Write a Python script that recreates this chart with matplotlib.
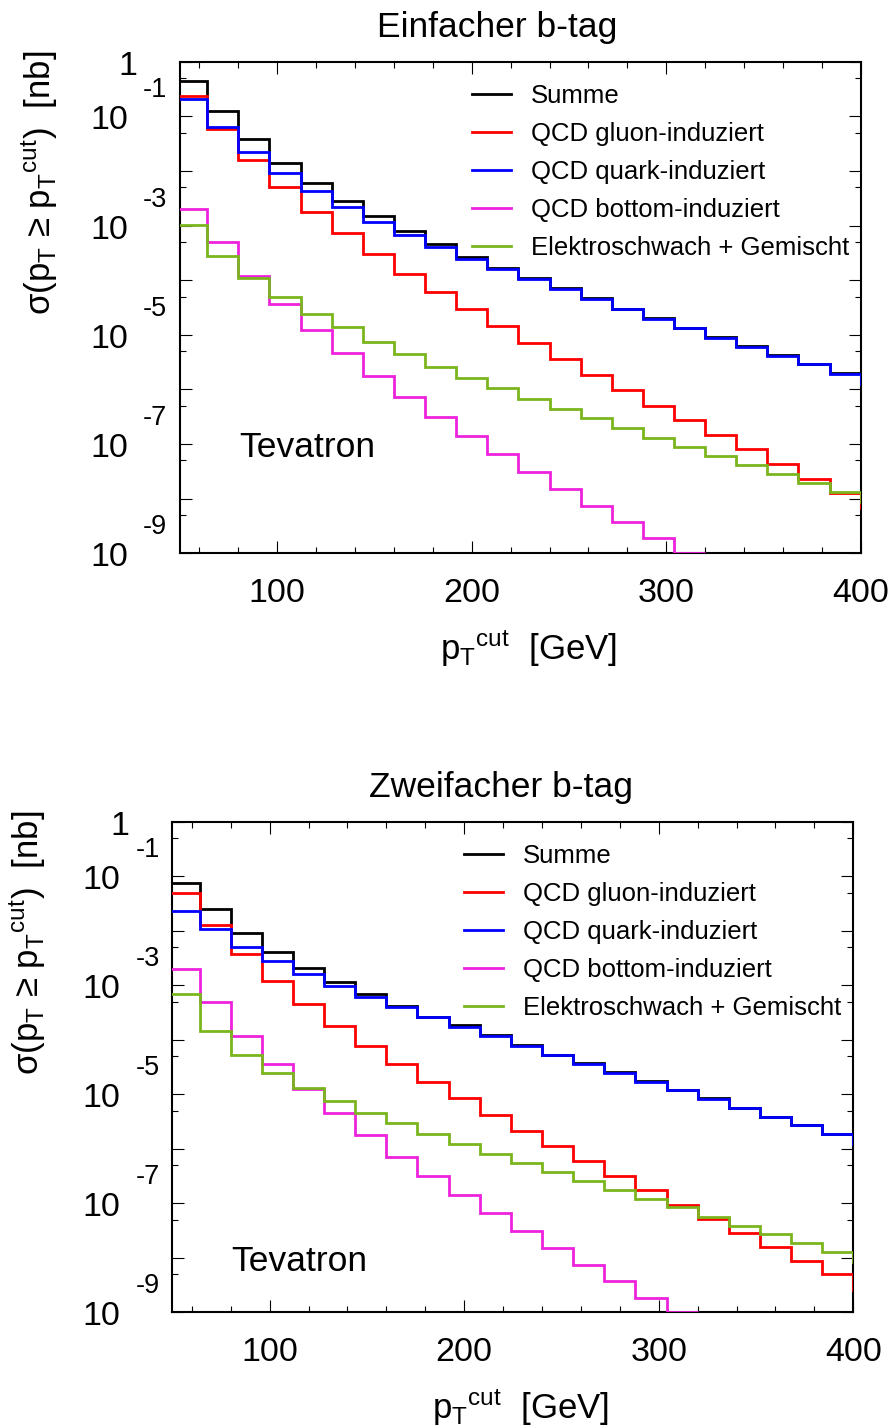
import numpy as np
import matplotlib
matplotlib.use("Agg")
import matplotlib.pyplot as plt
import matplotlib.transforms as mtransforms
from matplotlib.lines import Line2D
from matplotlib.ticker import FixedLocator, MultipleLocator, NullFormatter

plt.rcParams["font.family"] = ["Liberation Sans", "DejaVu Sans"]
plt.rcParams["mathtext.fontset"] = "custom"
plt.rcParams["mathtext.rm"] = "Liberation Sans"
plt.rcParams["mathtext.it"] = "Liberation Sans"
plt.rcParams["mathtext.bf"] = "Liberation Sans:bold"
plt.rcParams["mathtext.default"] = "regular"

# p_T^cut bin edges [GeV]; the last bin (400-416) lies beyond the frame
pt_edges = [48, 64, 80, 96, 112, 128, 144, 160, 176, 192, 208, 224,
            240, 256, 272, 288, 304, 320, 336, 352, 368, 384, 400, 416]

labels = ["Summe", "QCD gluon-induziert", "QCD quark-induziert",
          "QCD bottom-induziert", "Elektroschwach + Gemischt"]
colors = ["#000000", "#ff0000", "#0000ff", "#ee22dd", "#7ab51d"]

nan = np.nan

# sigma(pT >= pT^cut) [nb], single b-tag
single_summe = [4.49e-1, 1.25e-1, 3.89e-2, 1.42e-2, 6.10e-3, 2.85e-3, 1.51e-3, 7.94e-4,
                4.54e-4, 2.69e-4, 1.68e-4, 1.08e-4, 7.24e-5, 4.65e-5, 3.03e-5, 2.02e-5,
                1.36e-5, 9.06e-6, 6.14e-6, 4.19e-6, 2.91e-6, 1.96e-6, 1.27e-6]
single_gluon = [2.36e-1, 5.93e-2, 1.58e-2, 5.14e-3, 1.79e-3, 7.21e-4, 2.97e-4, 1.28e-4,
                6.00e-5, 2.93e-5, 1.45e-5, 6.98e-6, 3.56e-6, 1.81e-6, 9.64e-7, 5.04e-7,
                2.75e-7, 1.46e-7, 8.00e-8, 4.26e-8, 2.29e-8, 1.29e-8, 6.65e-9]
single_quark = [2.05e-1, 6.30e-2, 2.25e-2, 9.29e-3, 4.30e-3, 2.21e-3, 1.16e-3, 6.71e-4,
                4.10e-4, 2.44e-4, 1.58e-4, 1.04e-4, 6.89e-5, 4.47e-5, 2.93e-5, 1.97e-5,
                1.33e-5, 8.91e-6, 6.05e-6, 4.14e-6, 2.88e-6, 1.94e-6, 1.26e-6]
single_bottom = [1.98e-3, 4.93e-4, 1.19e-4, 3.61e-5, 1.22e-5, 4.58e-6, 1.76e-6, 7.18e-7,
                 3.16e-7, 1.42e-7, 6.58e-8, 3.12e-8, 1.48e-8, 7.43e-9, 3.69e-9, 1.88e-9,
                 1.0e-9, nan, nan, nan, nan, nan, nan]
single_ew = [1.01e-3, 2.81e-4, 1.11e-4, 4.99e-5, 2.40e-5, 1.37e-5, 7.29e-6, 4.45e-6,
             2.61e-6, 1.64e-6, 1.05e-6, 6.68e-7, 4.39e-7, 2.96e-7, 1.94e-7, 1.31e-7,
             8.93e-8, 6.12e-8, 4.13e-8, 2.82e-8, 1.96e-8, 1.31e-8, 8.79e-9]

# sigma(pT >= pT^cut) [nb], double b-tag
double_summe = [7.60e-2, 2.47e-2, 8.95e-3, 4.07e-3, 2.04e-3, 1.13e-3, 6.90e-4, 4.22e-4,
                2.65e-4, 1.83e-4, 1.22e-4, 8.00e-5, 5.36e-5, 3.69e-5, 2.52e-5, 1.72e-5,
                1.21e-5, 8.38e-6, 5.70e-6, 3.89e-6, 2.74e-6, 1.85e-6, 1.23e-6]
double_gluon = [4.85e-2, 1.27e-2, 3.74e-3, 1.20e-3, 4.53e-4, 1.79e-4, 7.78e-5, 3.55e-5,
                1.70e-5, 8.41e-6, 4.16e-6, 2.14e-6, 1.12e-6, 5.96e-7, 3.16e-7, 1.75e-7,
                9.29e-8, 5.08e-8, 2.88e-8, 1.60e-8, 8.83e-9, 4.98e-9, 2.57e-9]
double_quark = [2.30e-2, 1.09e-2, 5.09e-3, 2.79e-3, 1.61e-3, 9.68e-4, 6.00e-4, 3.94e-4,
                2.58e-4, 1.73e-4, 1.17e-4, 7.78e-5, 5.25e-5, 3.63e-5, 2.48e-5, 1.70e-5,
                1.20e-5, 8.32e-6, 5.66e-6, 3.87e-6, 2.73e-6, 1.84e-6, 1.22e-6]
double_bottom = [1.99e-3, 4.99e-4, 1.19e-4, 3.59e-5, 1.23e-5, 4.58e-6, 1.79e-6, 7.14e-7,
                 3.16e-7, 1.42e-7, 6.53e-8, 3.10e-8, 1.49e-8, 7.36e-9, 3.75e-9, 1.85e-9,
                 1.0e-9, nan, nan, nan, nan, nan, nan]
double_ew = [6.81e-4, 1.45e-4, 5.25e-5, 2.49e-5, 1.32e-5, 7.52e-6, 4.58e-6, 2.93e-6,
             1.86e-6, 1.22e-6, 8.02e-7, 5.41e-7, 3.70e-7, 2.56e-7, 1.75e-7, 1.20e-7,
             8.41e-8, 5.68e-8, 3.87e-8, 2.69e-8, 1.84e-8, 1.26e-8, 8.26e-9]

x_major = [100, 200, 300, 400]
y_decades = [0, -1, -2, -3, -4, -5, -6, -7, -8, -9]
y_halves = [-1, -2, -3, -4, -5, -6, -7, -8, -9]
y_labelled = [0, -1, -3, -5, -7, -9]

panels = [
    dict(title="Einfacher b-tag",
         series=[single_summe, single_gluon, single_quark, single_bottom, single_ew],
         rect=[180.0, 61.7, 860.7, 553.3], title_x=0.4654, label_y=0.754,
         ylabel_x=-0.176, tev=(0.087, 0.1965)),
    dict(title="Zweifacher b-tag",
         series=[double_summe, double_gluon, double_quark, double_bottom, double_ew],
         rect=[172.3, 821.7, 853.3, 1312.3], title_x=0.4824, label_y=0.7534,
         ylabel_x=-0.182, tev=(0.0862, 0.0848)),
]

W, H = 893, 1428
fig = plt.figure(figsize=(W / 100, H / 100), dpi=100)

LW = 2.0
for p in panels:
    l, t, r, b = p["rect"]
    ax = fig.add_axes([l / W, 1 - b / H, (r - l) / W, (b - t) / H])

    for i, (vals, col) in enumerate(zip(p["series"], colors)):
        ax.stairs(vals, pt_edges, baseline=None, color=col, lw=LW, zorder=2 + i)

    ax.set_yscale("log")
    ax.set_xlim(50, 400)
    ax.set_ylim(1e-9, 1)

    ax.xaxis.set_major_locator(FixedLocator(x_major))
    ax.xaxis.set_minor_locator(MultipleLocator(20))
    ax.yaxis.set_major_locator(FixedLocator([10.0 ** e for e in y_decades]))
    ax.yaxis.set_minor_locator(FixedLocator([5 * 10.0 ** e for e in y_halves]))
    ax.yaxis.set_major_formatter(NullFormatter())
    ax.yaxis.set_minor_formatter(NullFormatter())

    ax.tick_params(which="both", direction="in", top=True, right=True, width=0.8)
    ax.tick_params(which="major", length=8.6, labelsize=24.5, pad=18)
    ax.tick_params(which="minor", length=4.3)
    for s in ax.spines.values():
        s.set_linewidth(1.5)

    # decade labels drawn as "10" with a raised exponent
    base = ax.get_yaxis_transform()
    px = 1 / 100.0
    for e in y_labelled:
        y = 10.0 ** e
        if e == 0:
            tr = base + mtransforms.ScaledTranslation(-43 * px, -13 * px, fig.dpi_scale_trans)
            ax.text(0, y, "1", transform=tr, ha="right", va="baseline", fontsize=24.5)
        else:
            tr = base + mtransforms.ScaledTranslation(-52 * px, -13 * px, fig.dpi_scale_trans)
            ax.text(0, y, "10", transform=tr, ha="right", va="baseline", fontsize=24.5)
            tr = base + mtransforms.ScaledTranslation(-37 * px, 19 * px, fig.dpi_scale_trans)
            ax.text(0, y, str(e), transform=tr, ha="left", va="baseline", fontsize=19.5)

    ax.set_title(p["title"], x=p["title_x"], y=1.0509, pad=0, fontsize=25.5)
    ax.set_xlabel("p$_T{}^{cut}$  [GeV]", fontsize=25)
    ax.xaxis.set_label_coords(0.512, -0.1526)
    ax.set_ylabel("σ(p$_T$ ≥ p$_T{}^{cut}$)  [nb]", fontsize=25)
    ax.yaxis.set_label_coords(p["ylabel_x"], p["label_y"])

    ax.text(p["tev"][0], p["tev"][1], "Tevatron", transform=ax.transAxes,
            ha="left", va="baseline", fontsize=25.5)

    handles = [Line2D([], [], color=c, lw=LW) for c in colors]
    ax.legend(handles, labels, loc="upper left", bbox_to_anchor=(0.4285, 0.955),
              frameon=False, fontsize=18.5, handlelength=1.52, handletextpad=0.78,
              labelspacing=0.55, borderpad=0, borderaxespad=0)

fig.savefig("out.png", dpi=100)
